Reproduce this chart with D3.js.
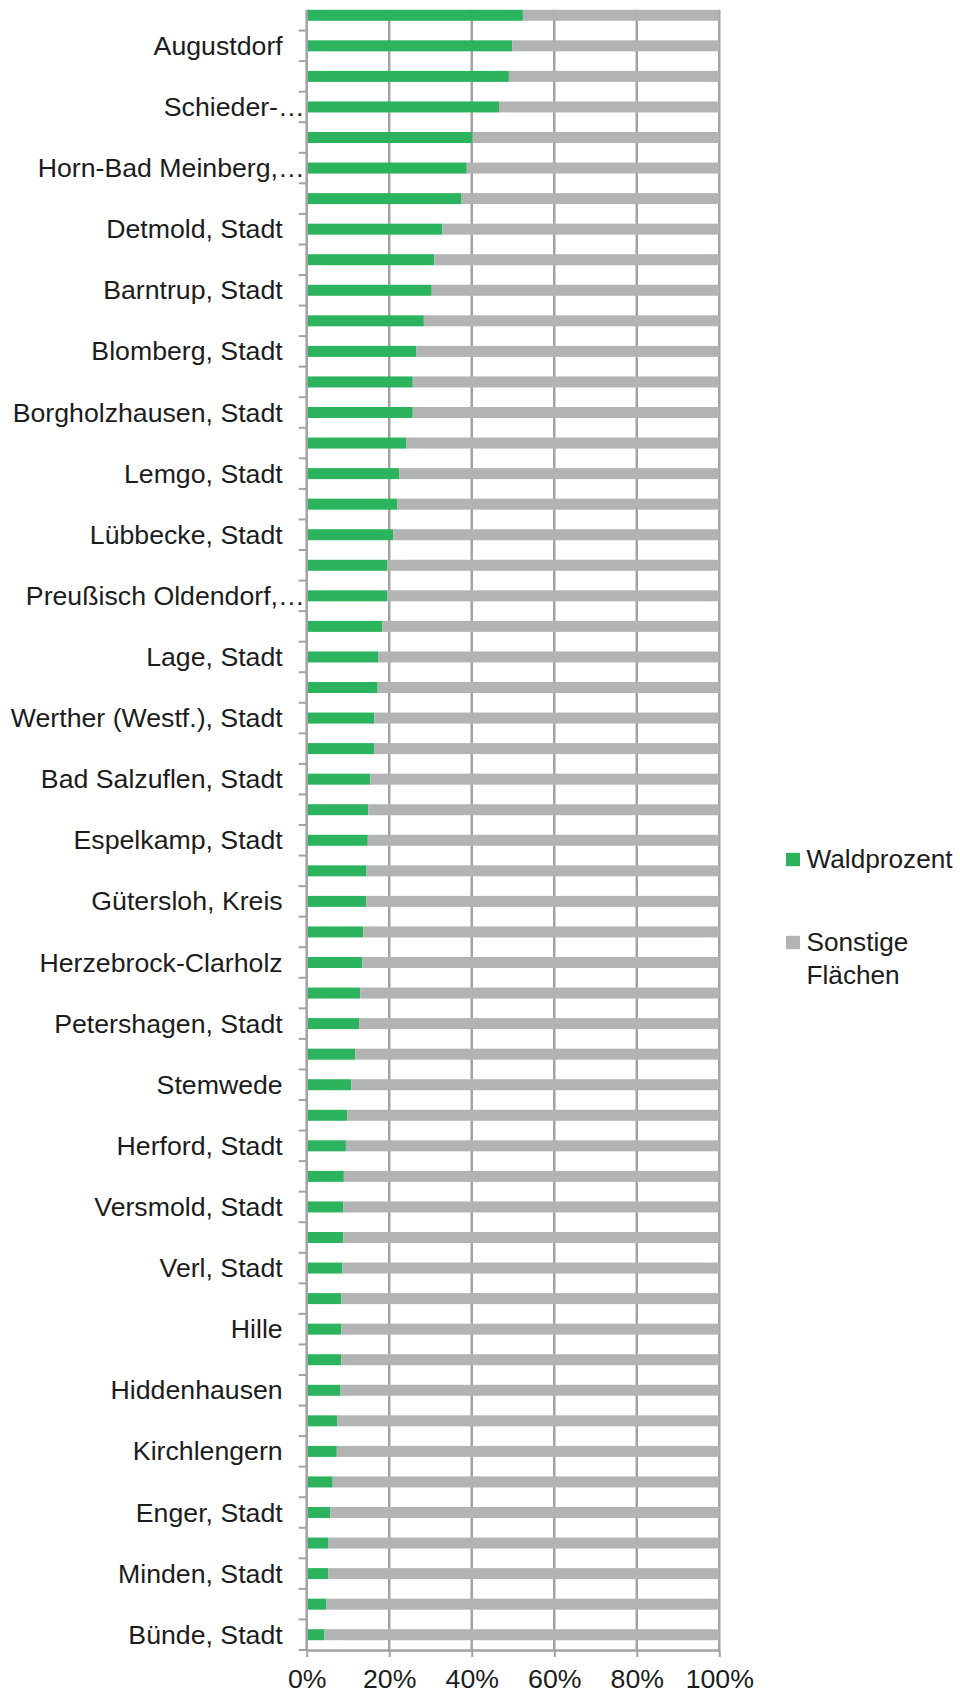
<!DOCTYPE html>
<html><head><meta charset="utf-8">
<script src="https://cdn.jsdelivr.net/npm/d3@7"></script>
<style>
body{margin:0;background:#fff}
text{font-family:"Liberation Sans",Arial,Helvetica,sans-serif;fill:#1c1c1c}
</style>
</head><body>
<svg id="chart" width="960" height="1695"></svg>
<script>
const categories = [
  "Schlangen", "Augustdorf", "Lügde, Stadt", "Schieder-…", "Extertal", "Horn-Bad Meinberg,…",
  "Oerlinghausen, Stadt", "Detmold, Stadt", "Dörentrup", "Barntrup, Stadt", "Kalletal", "Blomberg, Stadt",
  "Lippe, Kreis", "Borgholzhausen, Stadt", "Halle (Westf.), Stadt", "Lemgo, Stadt", "Steinhagen", "Lübbecke, Stadt",
  "Schloß Holte-Stukenbrock, Stadt", "Preußisch Oldendorf,…", "Leopoldshöhe", "Lage, Stadt", "Vlotho, Stadt", "Werther (Westf.), Stadt",
  "Porta Westfalica, Stadt", "Bad Salzuflen, Stadt", "Hüllhorst", "Espelkamp, Stadt", "Bad Oeynhausen, Stadt", "Gütersloh, Kreis",
  "Spenge, Stadt", "Herzebrock-Clarholz", "Rödinghausen", "Petershagen, Stadt", "Harsewinkel, Stadt", "Stemwede",
  "Rahden, Stadt", "Herford, Stadt", "Minden-Lübbecke, Kreis", "Versmold, Stadt", "Herford, Kreis", "Verl, Stadt",
  "Gütersloh, Stadt", "Hille", "Langenberg", "Hiddenhausen", "Rietberg, Stadt", "Kirchlengern",
  "Rheda-Wiedenbrück, Stadt", "Enger, Stadt", "Löhne, Stadt", "Minden, Stadt", "Bielefeld, Stadt", "Bünde, Stadt"
];
const waldprozent = [
  52.4, 49.8, 49.0, 46.6, 40.2, 38.8,
  37.4, 32.9, 30.9, 30.3, 28.4, 26.6,
  25.7, 25.7, 24.2, 22.4, 22.0, 21.0,
  19.6, 19.6, 18.3, 17.4, 17.2, 16.4,
  16.3, 15.4, 14.9, 14.8, 14.5, 14.4,
  13.7, 13.5, 13.0, 12.7, 11.8, 10.8,
  9.8, 9.5, 9.0, 8.9, 8.85, 8.6,
  8.4, 8.4, 8.35, 8.2, 7.4, 7.3,
  6.3, 5.7, 5.3, 5.2, 4.7, 4.3
];
const sonstigeFlaechen = [
  47.6, 50.2, 51.0, 53.4, 59.8, 61.2,
  62.6, 67.1, 69.1, 69.7, 71.6, 73.4,
  74.3, 74.3, 75.8, 77.6, 78.0, 79.0,
  80.4, 80.4, 81.7, 82.6, 82.8, 83.6,
  83.7, 84.6, 85.1, 85.2, 85.5, 85.6,
  86.3, 86.5, 87.0, 87.3, 88.2, 89.2,
  90.2, 90.5, 91.0, 91.1, 91.15, 91.4,
  91.6, 91.6, 91.65, 91.8, 92.6, 92.7,
  93.7, 94.3, 94.7, 94.8, 95.3, 95.7
];
const seriesNames = ["Waldprozent", "Sonstige Flächen"];
const legendLines = [["Waldprozent"], ["Sonstige", "Flächen"]];
const xTicks = [0, 20, 40, 60, 80, 100];

const colors = ["#2cb35e", "#b2b4b4"];
const gridColor = "#a3a3a3";
const fontSize = 26.7;

const svg = d3.select("#chart");
const left = 306.7, right = 719.3, bottom = 1650;

const x = d3.scaleLinear().domain([0, 100]).range([left, right]);
const y = d3.scaleBand().domain(categories).range([0, bottom])
  .paddingInner(0.64).paddingOuter(0.32);
const plotTop = y(categories[0]);

const rows = categories.map((c, i) => ({
  cat: c, "Waldprozent": waldprozent[i], "Sonstige Flächen": sonstigeFlaechen[i]
}));
const stacked = d3.stack().keys(seriesNames)(rows);

// vertical gridlines
svg.append("g").selectAll("line").data(xTicks.slice(1)).join("line")
  .attr("x1", d => x(d)).attr("x2", d => x(d))
  .attr("y1", plotTop).attr("y2", bottom)
  .attr("stroke", gridColor).attr("stroke-width", 2.5);

// bars
svg.append("g").selectAll("g").data(stacked).join("g")
  .attr("fill", (d, i) => colors[i])
  .selectAll("rect").data(d => d).join("rect")
  .attr("x", d => x(d[0]))
  .attr("width", d => x(d[1]) - x(d[0]))
  .attr("y", d => y(d.data.cat))
  .attr("height", y.bandwidth());

// y axis: line + boundary ticks
const yAxisG = svg.append("g");
yAxisG.append("line")
  .attr("x1", left).attr("x2", left).attr("y1", plotTop).attr("y2", bottom)
  .attr("stroke", gridColor).attr("stroke-width", 2.5);
yAxisG.selectAll("line.tick").data(categories).join("line")
  .attr("class", "tick")
  .attr("x1", left - 8).attr("x2", left)
  .attr("y1", d => y(d) + y.bandwidth() / 2 + y.step() / 2)
  .attr("y2", d => y(d) + y.bandwidth() / 2 + y.step() / 2)
  .attr("stroke", gridColor).attr("stroke-width", 2);

// y labels (every other category)
const yLab = svg.append("g").attr("transform", `translate(${left},0)`)
  .call(d3.axisLeft(y).tickSize(0).tickPadding(24)
    .tickFormat((d, i) => i % 2 === 1 ? d : ""));
yLab.select(".domain").remove();
yLab.selectAll("text").style("font-size", fontSize + "px").attr("fill", "#1c1c1c")
  .attr("dy", "0.34em")
  .attr("dx", d => d.endsWith("…") ? 22 : 0);

// x axis
const xAxisG = svg.append("g").attr("transform", `translate(0,${bottom})`)
  .call(d3.axisBottom(x).tickValues(xTicks).tickFormat(d => d + "%")
    .tickSize(7).tickSizeOuter(0).tickPadding(12));
xAxisG.select(".domain").attr("stroke", gridColor).attr("stroke-width", 2.5);
xAxisG.selectAll(".tick line").attr("stroke", gridColor).attr("stroke-width", 2);
xAxisG.selectAll("text").style("font-size", fontSize + "px").attr("fill", "#1c1c1c");

// legend
const legend = svg.append("g");
const legendY = [859.5, 942.5];
seriesNames.forEach((s, i) => {
  const g = legend.append("g");
  g.append("rect").attr("x", 786).attr("y", legendY[i] - 6.7)
    .attr("width", 14).attr("height", 13.4).attr("fill", colors[i]);
  const t = g.append("text").attr("x", 806.5).attr("y", legendY[i])
    .style("font-size", "26.2px");
  legendLines[i].forEach((ln, j) => {
    t.append("tspan").attr("x", 806.5).attr("y", legendY[i] + j * 32.6)
      .attr("dy", "0.34em").text(ln);
  });
});
</script>
</body></html>
